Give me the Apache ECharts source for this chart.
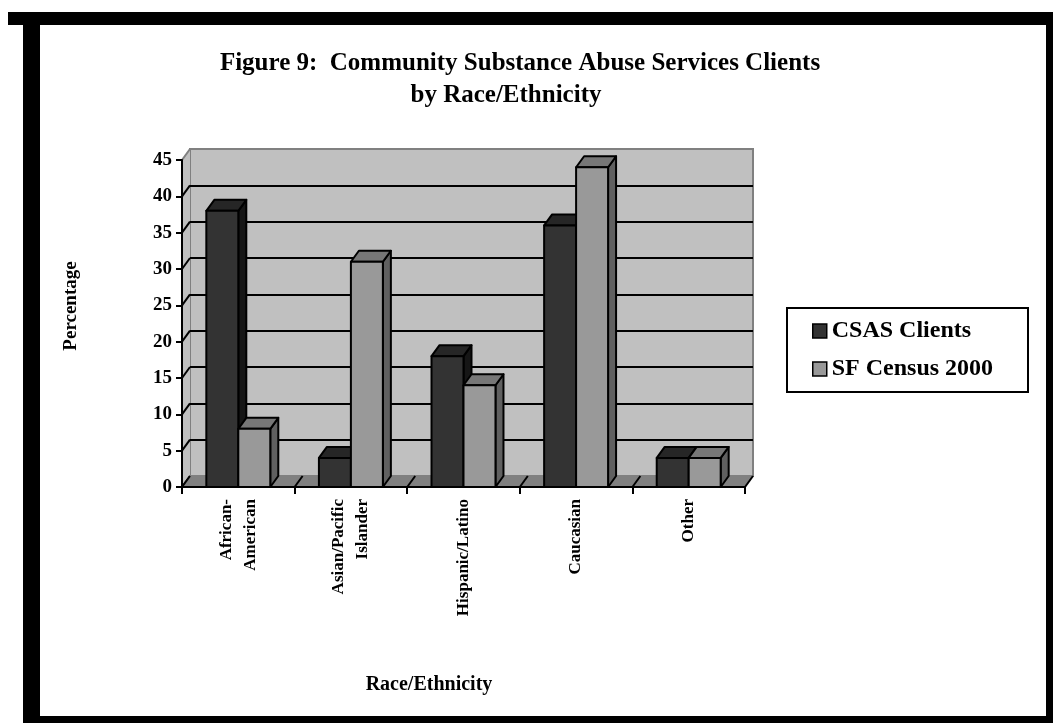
<!DOCTYPE html>
<html>
<head>
<meta charset="utf-8">
<script src="https://cdn.jsdelivr.net/npm/echarts@6/dist/echarts.min.js"></script>
<style>
html,body{margin:0;padding:0;background:#fff;}
#chart{width:1053px;height:723px;}
</style>
</head>
<body>
<div id="chart"></div>
<script>
const categories = ['African-\nAmerican', 'Asian/Pacific\nIslander', 'Hispanic/Latino', 'Caucasian', 'Other'];
const csasClients = [38, 4, 18, 36, 4];
const sfCensus2000 = [8, 31, 14, 44, 4];
const yTicks = [0, 5, 10, 15, 20, 25, 30, 35, 40, 45];
const seriesNames = ['CSAS Clients', 'SF Census 2000'];
const titleLine1 = 'Figure 9:  Community Substance Abuse Services Clients';
const titleLine2 = 'by Race/Ethnicity';
const yAxisName = 'Percentage';
const xAxisName = 'Race/Ethnicity';

const FONT = '"Liberation Serif", "Times New Roman", serif';
const DX = 8, DY = 11;           // 3-D depth offset
const BAR_RATIO = 0.284;          // bar width / category band
const faces = [
  {front: '#333333', top: '#262626', side: '#161616'},
  {front: '#999999', top: '#777777', side: '#606060'}
];

const chart = echarts.init(document.getElementById('chart'), null, {renderer: 'canvas'});

function barRender(sIdx) {
  return function (params, api) {
    const cat = api.value(0), val = api.value(1);
    const top = api.coord([cat, val]);
    const base = api.coord([cat, 0]);
    const bw = api.size([1, 0])[0];
    const w = bw * BAR_RATIO;
    const x = sIdx === 0 ? top[0] - w : top[0];
    const y1 = top[1], y0 = base[1];
    const f = faces[sIdx];
    const st = {stroke: '#000', lineWidth: 2, lineJoin: 'round'};
    return {
      type: 'group',
      children: [
        {type: 'polygon', shape: {points: [[x + w, y1], [x + w + DX, y1 - DY], [x + w + DX, y0 - DY], [x + w, y0]]},
          style: Object.assign({fill: f.side}, st)},
        {type: 'polygon', shape: {points: [[x, y1], [x + DX, y1 - DY], [x + w + DX, y1 - DY], [x + w, y1]]},
          style: Object.assign({fill: f.top}, st)},
        {type: 'rect', shape: {x: x, y: y1, width: w, height: y0 - y1},
          style: Object.assign({fill: f.front}, st)}
      ]
    };
  };
}

function scaffoldRender(params, api) {
  const bw = api.size([1, 0])[0];
  const x0 = api.coord([0, 0])[0] - bw / 2;
  const x1 = api.coord([categories.length - 1, 0])[0] + bw / 2;
  const y0 = api.coord([0, 0])[1];
  const yT = api.coord([0, yTicks[yTicks.length - 1]])[1];
  const children = [];
  // left side wall
  children.push({type: 'polygon', shape: {points: [[x0, yT], [x0 + DX, yT - DY], [x0 + DX, y0 - DY], [x0, y0]]},
    style: {fill: '#c0c0c0'}});
  yTicks.forEach(function (v, i) {
    const y = api.coord([0, v])[1];
    children.push({type: 'line', shape: {x1: x0, y1: y, x2: x0 + DX, y2: y - DY},
      style: {stroke: i === yTicks.length - 1 ? '#808080' : '#000', lineWidth: 2}});
  });
  // floor
  children.push({type: 'polygon', shape: {points: [[x0, y0], [x1, y0], [x1 + DX, y0 - DY], [x0 + DX, y0 - DY]]},
    style: {fill: '#808080'}});
  for (let i = 0; i <= categories.length; i++) {
    const x = x0 + i * bw;
    children.push({type: 'line', shape: {x1: x, y1: y0, x2: x + DX, y2: y0 - DY},
      style: {stroke: '#000', lineWidth: 2}});
  }
  return {type: 'group', children: children};
}

const gridColors = yTicks.map(function (v, i) { return (i === 0 || i === yTicks.length - 1) ? '#808080' : '#000'; });

const option = {
  backgroundColor: '#fff',
  animation: false,
  title: [
    {text: titleLine1, left: 520, top: 50, textAlign: 'center', padding: 0,
      textStyle: {fontFamily: FONT, fontWeight: 'bold', fontSize: 25, color: '#000', lineHeight: 28}},
    {text: titleLine2, left: 506, top: 82, textAlign: 'center', padding: 0,
      textStyle: {fontFamily: FONT, fontWeight: 'bold', fontSize: 25, color: '#000', lineHeight: 28}}
  ],
  legend: {
    orient: 'vertical', left: 812, top: 319, padding: 0,
    icon: 'rect', itemWidth: 14, itemHeight: 14, itemGap: 14,
    itemStyle: {borderColor: '#000', borderWidth: 1.5},
    textStyle: {fontFamily: FONT, fontWeight: 'bold', fontSize: 24, color: '#000', lineHeight: 24},
    data: seriesNames
  },
  grid: [
    {left: 182, right: 308, top: 160, bottom: 236, show: false},
    {left: 190, right: 300, top: 149, bottom: 247, show: true, backgroundColor: '#c0c0c0',
      borderColor: '#808080', borderWidth: 2}
  ],
  xAxis: [
    {type: 'category', gridIndex: 0, data: categories, boundaryGap: true,
      axisLine: {show: true, lineStyle: {color: '#000', width: 2}},
      axisTick: {show: true, length: 7, lineStyle: {color: '#000', width: 2}},
      axisLabel: {rotate: 90, margin: 12, color: '#000', fontFamily: FONT, fontWeight: 'bold', fontSize: 17, lineHeight: 24},
      splitLine: {show: false}, z: 5},
    {type: 'category', gridIndex: 1, data: categories, show: false}
  ],
  yAxis: [
    {type: 'value', gridIndex: 0, min: 0, max: 45, interval: 5,
      axisLine: {show: true, lineStyle: {color: '#000', width: 2}},
      axisTick: {show: true, length: 6, lineStyle: {color: '#000', width: 2}},
      axisLabel: {margin: 10, color: '#000', fontFamily: FONT, fontWeight: 'bold', fontSize: 19},
      splitLine: {show: false}, z: 5},
    {type: 'value', gridIndex: 1, min: 0, max: 45, interval: 5,
      axisLine: {show: false}, axisTick: {show: false}, axisLabel: {show: false},
      splitLine: {show: true, lineStyle: {color: gridColors, width: 2}}}
  ],
  graphic: [
    // frame
    {type: 'rect', shape: {x: 8, y: 12, width: 1045, height: 13}, style: {fill: '#000'}, z: 100},
    {type: 'rect', shape: {x: 23, y: 12, width: 17, height: 711}, style: {fill: '#000'}, z: 100},
    {type: 'rect', shape: {x: 1046, y: 12, width: 7, height: 711}, style: {fill: '#000'}, z: 100},
    {type: 'rect', shape: {x: 23, y: 716, width: 1030, height: 7}, style: {fill: '#000'}, z: 100},
    // legend box
    {type: 'rect', shape: {x: 787, y: 308, width: 241, height: 84},
      style: {fill: 'none', stroke: '#000', lineWidth: 2}, z: 10},
    // axis names
    {type: 'text', x: 71, y: 306, rotation: Math.PI / 2,
      style: {text: yAxisName, fill: '#000', font: 'bold 19px ' + FONT, textAlign: 'center', textVerticalAlign: 'middle'}, z: 10},
    {type: 'text', x: 429, y: 685,
      style: {text: xAxisName, fill: '#000', font: 'bold 20px ' + FONT, textAlign: 'center', textVerticalAlign: 'middle'}, z: 10}
  ],
  series: [
    {type: 'custom', name: '_scaffold', xAxisIndex: 0, yAxisIndex: 0, z: 1, silent: true,
      renderItem: scaffoldRender, data: [[0, 0]]},
    {type: 'custom', name: seriesNames[0], xAxisIndex: 0, yAxisIndex: 0, z: 3,
      itemStyle: {color: faces[0].front},
      renderItem: barRender(0),
      data: csasClients.map(function (v, i) { return [i, v]; })},
    {type: 'custom', name: seriesNames[1], xAxisIndex: 0, yAxisIndex: 0, z: 3,
      itemStyle: {color: faces[1].front},
      renderItem: barRender(1),
      data: sfCensus2000.map(function (v, i) { return [i, v]; })}
  ]
};
chart.setOption(option);
</script>
</body>
</html>
